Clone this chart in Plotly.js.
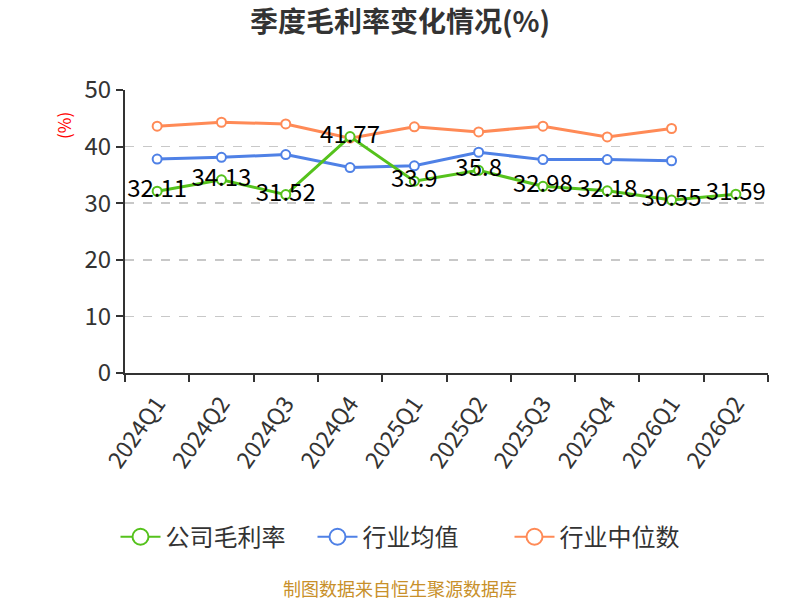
<!DOCTYPE html>
<html>
<head>
<meta charset="utf-8">
<script src="https://cdn.plot.ly/plotly-3.0.1.min.js"></script>
<style>
  html, body { margin: 0; padding: 0; background: #fff; }
  #chart { width: 800px; height: 600px; }
</style>
</head>
<body>
<div id="chart"></div>
<script>
// quarters on the x axis
let quarters = ["2024Q1", "2024Q2", "2024Q3", "2024Q4", "2025Q1",
                "2025Q2", "2025Q3", "2025Q4", "2026Q1", "2026Q2"];

// 公司毛利率 (labelled values)
let companyMargin = [32.11, 34.13, 31.52, 41.77, 33.9, 35.8, 32.98, 32.18, 30.55, 31.59];
// 行业均值
let industryMean = [37.8, 38.1, 38.6, 36.3, 36.6, 39.0, 37.7, 37.7, 37.5, null];
// 行业中位数
let industryMedian = [43.6, 44.3, 44.0, 41.5, 43.5, 42.6, 43.6, 41.7, 43.2, null];

let seriesNames = ["公司毛利率", "行业均值", "行业中位数"];
let seriesColors = ["#55c21c", "#4f81e6", "#ff8a56"];

let font = "Noto Sans CJK SC, Noto Sans, sans-serif";

function lineTrace(name, y, color, withText) {
    let trace = {
        x: quarters,
        y: y,
        name: name,
        type: "scatter",
        mode: withText ? "lines+markers+text" : "lines+markers",
        line: { color: color, width: 3 },
        marker: {
            symbol: "circle",
            size: 9,
            color: "#ffffff",
            line: { color: color, width: 2 }
        },
        showlegend: false,
        hoverinfo: "x+y"
    };
    if (withText) {
        trace.text = y.map((v) => String(v));
        trace.textposition = "middle center";
        trace.textfont = { family: font, size: 24, color: "#000000" };
    }
    return trace;
}

// legend entries only (bigger open circles, thinner line than the plotted series)
function legendTrace(name, color) {
    return {
        x: [null],
        y: [null],
        name: name,
        type: "scatter",
        mode: "lines+markers",
        line: { color: color, width: 2 },
        marker: { symbol: "circle", size: 16, color: "#ffffff", line: { color: color, width: 2 } },
        hoverinfo: "skip"
    };
}

let traces = [
    lineTrace(seriesNames[1], industryMean, seriesColors[1], false),
    lineTrace(seriesNames[2], industryMedian, seriesColors[2], false),
    lineTrace(seriesNames[0], companyMargin, seriesColors[0], true),
    legendTrace(seriesNames[0], seriesColors[0]),
    legendTrace(seriesNames[1], seriesColors[1]),
    legendTrace(seriesNames[2], seriesColors[2])
];

let layout = {
    width: 800,
    height: 600,
    margin: { l: 125, r: 32, t: 90, b: 227 },
    paper_bgcolor: "#ffffff",
    plot_bgcolor: "#ffffff",
    font: { family: font, color: "#333333" },
    title: {
        text: "<b>季度毛利率变化情况(%)</b>",
        font: { family: font, size: 28, color: "#333333" },
        x: 0.5,
        xanchor: "center",
        y: 0.963,
        yref: "container",
        yanchor: "middle"
    },
    xaxis: {
        type: "category",
        range: [-0.5, 9.5],
        tickson: "boundaries",
        ticks: "outside",
        ticklen: 7,
        tickwidth: 2,
        tickcolor: "#333333",
        showline: true,
        linecolor: "#333333",
        linewidth: 2,
        showgrid: false,
        tickangle: -55,
        ticklabelstandoff: 6,
        tickfont: { family: font, size: 23, color: "#333333" },
        fixedrange: true
    },
    yaxis: {
        range: [0, 50],
        dtick: 10,
        ticks: "outside",
        ticklen: 7,
        tickwidth: 2,
        tickcolor: "#333333",
        showline: true,
        linecolor: "#333333",
        linewidth: 2,
        showgrid: true,
        gridcolor: "#c8c8c8",
        gridwidth: 1.5,
        griddash: "dash",
        zeroline: false,
        tickfont: { family: font, size: 24, color: "#333333" },
        fixedrange: true
    },
    showlegend: true,
    legend: {
        orientation: "h",
        x: (411 - 125) / 643,
        xanchor: "center",
        y: -0.58,
        yanchor: "middle",
        font: { family: font, size: 24, color: "#333333" },
        itemwidth: 40,
        entrywidth: 142,
        traceorder: "normal"
    },
    annotations: [
        {
            text: "(%)",
            xref: "paper", yref: "paper",
            x: (63 - 125) / 643, y: (373 - 126) / 283,
            xanchor: "center", yanchor: "middle",
            textangle: -90,
            showarrow: false,
            font: { family: font, size: 17, color: "#ff0000" }
        },
        {
            text: "制图数据来自恒生聚源数据库",
            xref: "paper", yref: "paper",
            x: (400 - 125) / 643, y: -0.76,
            xanchor: "center", yanchor: "middle",
            showarrow: false,
            font: { family: font, size: 18, color: "#c8902a" }
        }
    ]
};

Plotly.newPlot("chart", traces, layout, { displayModeBar: false, staticPlot: true });
</script>
</body>
</html>
